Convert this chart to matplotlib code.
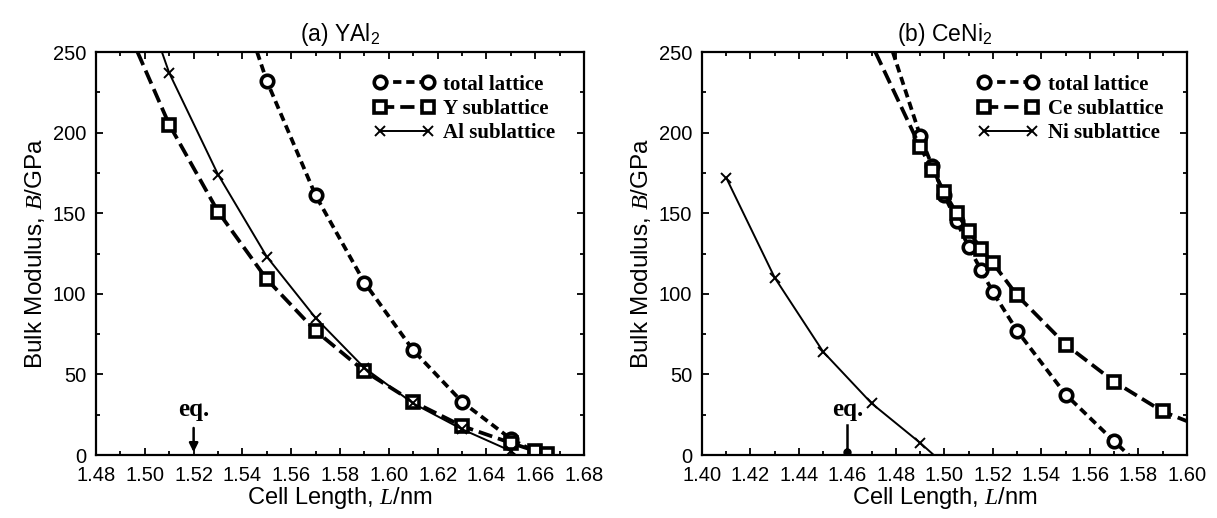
import matplotlib
matplotlib.use("Agg")
import matplotlib.pyplot as plt
from matplotlib.ticker import MultipleLocator, FormatStrFormatter

plt.rcParams['font.family'] = ['Liberation Sans', 'DejaVu Sans']
plt.rcParams['mathtext.fontset'] = 'custom'
plt.rcParams['mathtext.rm'] = 'Liberation Sans'
plt.rcParams['mathtext.it'] = 'Liberation Serif:italic'
plt.rcParams['mathtext.bf'] = 'Liberation Sans:bold'

# ---------------- data: (a) YAl2 ----------------
a_total_x = [1.55, 1.57, 1.59, 1.61, 1.63, 1.65, 1.66]
a_total_y = [232, 161, 107, 65, 33, 10, 2]
a_total_line_x = [1.546, 1.55, 1.57, 1.59, 1.61, 1.63, 1.65, 1.66, 1.662]
a_total_line_y = [250, 232, 161, 107, 65, 33, 10, 2, 0]

a_y_x = [1.51, 1.53, 1.55, 1.57, 1.59, 1.61, 1.63, 1.65, 1.66, 1.665]
a_y_y = [205, 151, 109, 77, 52, 33, 18, 7.5, 2.5, 0.5]
a_y_line_x = [1.497, 1.51, 1.53, 1.55, 1.57, 1.59, 1.61, 1.63, 1.65, 1.66, 1.665]
a_y_line_y = [250, 205, 151, 109, 77, 52, 33, 18, 7.5, 2.5, 0.5]

a_al_x = [1.51, 1.53, 1.55, 1.57, 1.59, 1.61, 1.63, 1.65]
a_al_y = [237, 174, 123, 85, 54, 32, 16, 2.5]
a_al_line_x = [1.507, 1.51, 1.53, 1.55, 1.57, 1.59, 1.61, 1.63, 1.65, 1.652]
a_al_line_y = [250, 237, 174, 123, 85, 54, 32, 16, 2.5, 0]

a_eq = 1.52

# ---------------- data: (b) CeNi2 ----------------
b_total_x = [1.49, 1.495, 1.50, 1.505, 1.51, 1.515, 1.52, 1.53, 1.55, 1.57]
b_total_y = [198, 179, 161, 145, 129, 115, 101, 77, 37.5, 8.5]
b_total_line_x = [1.4787] + b_total_x + [1.576]
b_total_line_y = [250] + b_total_y + [0]

b_ce_x = [1.49, 1.495, 1.50, 1.505, 1.51, 1.515, 1.52, 1.53, 1.55, 1.57, 1.59]
b_ce_y = [191, 177, 163, 150, 139, 128, 119, 99, 68.5, 45.5, 27]
b_ce_line_x = [1.4715] + b_ce_x + [1.60]
b_ce_line_y = [250] + b_ce_y + [21]

b_ni_x = [1.41, 1.43, 1.45, 1.47, 1.49]
b_ni_y = [172, 110, 64, 32, 7.5]
b_ni_line_x = b_ni_x + [1.4956]
b_ni_line_y = b_ni_y + [0]

b_eq = 1.46

fig = plt.figure(figsize=(12.17, 5.18), dpi=100)
axA = fig.add_axes([0.0789, 0.1216, 0.401, 0.778])
axB = fig.add_axes([0.5768, 0.1216, 0.3985, 0.778])

legfont = {'family': 'Liberation Serif', 'weight': 'bold', 'size': 15}
eqfont = {'family': 'Liberation Serif', 'weight': 'bold', 'size': 18}

def series(ax, lx, ly, mx, my, marker, dashes, lw, ms, label):
    kw = dict(color='black', lw=lw)
    if dashes is not None:
        kw['dashes'] = dashes
    mew = 2.6 if marker != 'x' else 1.4
    ax.plot(lx, ly, **kw)
    ax.plot(mx, my, linestyle='none', marker=marker, ms=ms, mfc='white',
            mec='black', mew=mew)
    h, = ax.plot([], [], marker=marker, ms=ms, mfc='white', mec='black',
                 mew=mew, label=label, **kw)
    return h

def style(ax, xmin, xmax, title):
    ax.set_xlim(xmin, xmax)
    ax.set_ylim(0, 250)
    ax.xaxis.set_major_locator(MultipleLocator(0.02))
    ax.xaxis.set_minor_locator(MultipleLocator(0.01))
    ax.xaxis.set_major_formatter(FormatStrFormatter('%.2f'))
    ax.yaxis.set_major_locator(MultipleLocator(50))
    ax.yaxis.set_minor_locator(MultipleLocator(25))
    ax.tick_params(which='both', direction='in', top=True, right=True,
                   labelsize=14.5, width=1.3)
    ax.tick_params(axis='x', which='major', pad=8)
    ax.tick_params(axis='y', which='major', pad=7)
    ax.tick_params(which='major', length=5)
    ax.tick_params(which='minor', length=3)
    for s in ax.spines.values():
        s.set_linewidth(1.6)
    ax.set_xlabel(r'Cell Length, $L$/nm', fontsize=17, labelpad=0)
    ax.set_ylabel(r'Bulk Modulus, $B$/GPa', fontsize=17.5, labelpad=4)
    ax.set_title(title, fontsize=16.5, pad=8)

# panel (a)
h1 = series(axA, a_total_line_x, a_total_line_y, a_total_x, a_total_y, 'o', (2.2, 1.3), 2.7, 9, 'total lattice')
h2 = series(axA, a_y_line_x, a_y_line_y, a_y_x, a_y_y, 's', (3.8, 1.6), 2.7, 9, 'Y sublattice')
h3 = series(axA, a_al_line_x, a_al_line_y, a_al_x, a_al_y, 'x', None, 1.4, 7, 'Al sublattice')
style(axA, 1.48, 1.68, r'(a) YAl$_2$')
axA.annotate('', xy=(a_eq, 0), xytext=(a_eq, 18.5),
             arrowprops=dict(arrowstyle='-|>', color='black', lw=1.8, mutation_scale=13))
axA.text(a_eq, 21, 'eq.', ha='center', va='bottom', fontdict=eqfont)
axA.legend(handles=[h1, h2, h3], loc='upper left', bbox_to_anchor=(0.53, 0.99), frameon=False,
           prop=legfont, numpoints=2, handlelength=2.9, handletextpad=0.45, labelspacing=0.2)

# panel (b)
g1 = series(axB, b_total_line_x, b_total_line_y, b_total_x, b_total_y, 'o', (2.2, 1.3), 2.7, 9, 'total lattice')
g2 = series(axB, b_ce_line_x, b_ce_line_y, b_ce_x, b_ce_y, 's', (3.8, 1.6), 2.7, 9, 'Ce sublattice')
g3 = series(axB, b_ni_line_x, b_ni_line_y, b_ni_x, b_ni_y, 'x', None, 1.4, 7, 'Ni sublattice')
style(axB, 1.40, 1.60, r'(b) CeNi$_2$')
axB.plot([b_eq, b_eq], [2, 18.5], color='black', lw=1.8)
axB.plot([b_eq], [2], marker='o', ms=5, color='black')
axB.text(b_eq, 21, 'eq.', ha='center', va='bottom', fontdict=eqfont)
axB.legend(handles=[g1, g2, g3], loc='upper left', bbox_to_anchor=(0.53, 0.99), frameon=False,
           prop=legfont, numpoints=2, handlelength=2.9, handletextpad=0.45, labelspacing=0.2)

fig.savefig('out.png', dpi=100)
